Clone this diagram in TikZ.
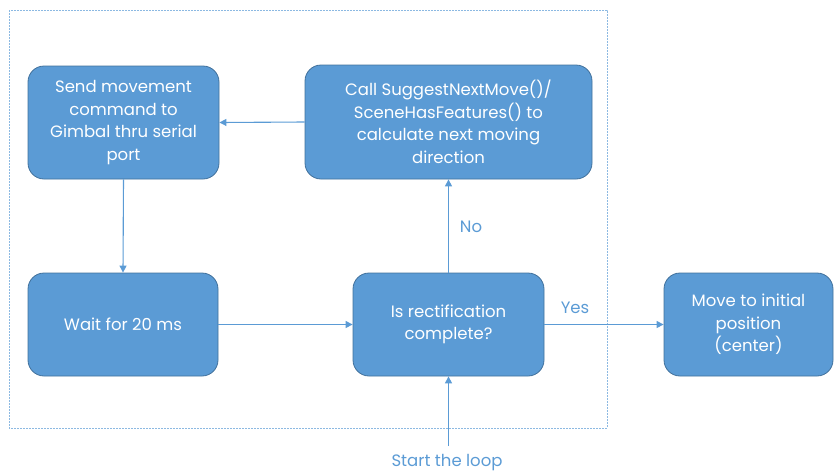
\documentclass[tikz,border=0pt]{standalone}
\usepackage{fontspec}
\setmainfont{Poppins}
\usetikzlibrary{arrows.meta}
\definecolor{boxfill}{HTML}{5B9BD5}
\definecolor{boxline}{HTML}{41719C}
\definecolor{arrowc}{HTML}{5B9BD5}
\begin{document}
\begin{tikzpicture}[x=1pt,y=-1pt,
  stepbox/.style={draw=boxline, line width=0.8pt, fill=boxfill, rounded corners=16pt, text=white, align=center, font=\fontsize{16.5}{22.5}\selectfont, inner sep=0pt},
  flow/.style={draw=arrowc, line width=1.1pt, -{Triangle[length=7pt,width=7pt]}},
  lbl/.style={text=arrowc, font=\fontsize{16.5}{18}\selectfont, inner sep=0pt}]
\useasboundingbox (0,0) rectangle (835,474);
\draw[arrowc!70, dash pattern=on 2pt off 1pt, line width=0.8pt] (9,10) rectangle (607,428);
\node[stepbox, minimum width=191pt, minimum height=113pt] (send) at (123.5,122.5) {Send movement\\command to\\Gimbal thru serial\\port};
\node[stepbox, minimum width=287pt, minimum height=114pt] (call) at (448.5,122) {Call SuggestNextMove()/\\SceneHasFeatures() to\\calculate next moving\\direction};
\node[stepbox, minimum width=190pt, minimum height=103pt] (wait) at (123,324.5) {Wait for 20 ms};
\node[stepbox, minimum width=191pt, minimum height=103pt] (rect) at (448.5,324.5) {Is rectification\\complete?};
\node[stepbox, minimum width=169pt, minimum height=103pt] (move) at (748.5,324.5) {Move to initial\\position\\(center)};
\coordinate (start) at (448.5,446);
\draw[flow] (call.west) -- (send.east);
\draw[flow] (send.south) -- (wait.north);
\draw[flow] (wait.east) -- (rect.west);
\draw[flow] (rect.north) -- (call.south);
\draw[flow] (rect.east) -- (move.west);
\draw[flow] (start) -- (rect.south);
\node[lbl] (no) at (471,227) {No};
\node[lbl] (yes) at (575,308) {Yes};
\node[lbl] (startlbl) at (447,463) {Start the loop};
\end{tikzpicture}
\end{document}
